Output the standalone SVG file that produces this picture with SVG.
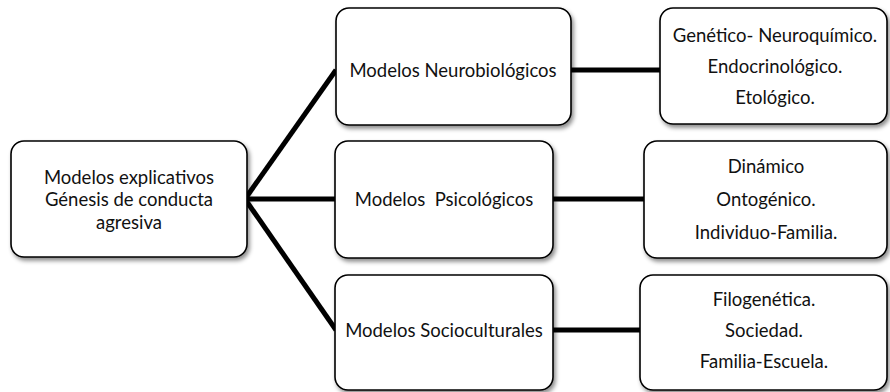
<svg xmlns="http://www.w3.org/2000/svg" width="890" height="392" viewBox="0 0 890 392">
  <defs>
    <filter id="shadow" x="-10%" y="-10%" width="125%" height="130%">
      <feDropShadow dx="2" dy="3" stdDeviation="2" flood-color="#000" flood-opacity="0.45"/>
    </filter>
  </defs>
  <style>
    .box { fill: #fff; stroke: #000; stroke-width: 1.6; filter: url(#shadow); }
    .lbl { font-family: Lato, "Liberation Sans", sans-serif; font-size: 18.5px; fill: #111; text-anchor: middle; dominant-baseline: central; }
    .link { stroke: #000; stroke-width: 5; fill: none; }
  </style>

  <!-- connectors -->
  <g id="connectors">
    <line class="link" x1="245" y1="199" x2="336" y2="70"/>
    <line class="link" x1="245" y1="199" x2="336" y2="199"/>
    <line class="link" x1="245" y1="199" x2="336" y2="330"/>
    <line class="link" x1="571" y1="70" x2="660" y2="70"/>
    <line class="link" x1="553" y1="199" x2="644" y2="199"/>
    <line class="link" x1="553" y1="330" x2="640" y2="330"/>
  </g>

  <!-- root -->
  <g id="root">
    <rect class="box" x="11" y="141" width="236" height="116" rx="13"/>
    <text class="lbl" x="129" y="177">Modelos explicativos</text>
    <text class="lbl" x="129" y="199">Génesis de conducta</text>
    <text class="lbl" x="129" y="222">agresiva</text>
  </g>

  <!-- model families -->
  <g id="neurobiologicos">
    <rect class="box" x="336" y="8" width="235" height="117" rx="13"/>
    <text class="lbl" x="453" y="70">Modelos Neurobiológicos</text>
  </g>
  <g id="psicologicos">
    <rect class="box" x="335" y="141" width="218" height="117" rx="13"/>
    <text class="lbl" x="444" y="199" xml:space="preserve">Modelos  Psicológicos</text>
  </g>
  <g id="socioculturales">
    <rect class="box" x="335" y="275" width="218" height="115" rx="13"/>
    <text class="lbl" x="444" y="330">Modelos Socioculturales</text>
  </g>

  <!-- details -->
  <g id="neuro-detalle">
    <rect class="box" x="660" y="8" width="227" height="116" rx="13"/>
    <text class="lbl" x="775" y="35">Genético- Neuroquímico.</text>
    <text class="lbl" x="775" y="66">Endocrinológico.</text>
    <text class="lbl" x="775" y="97">Etológico.</text>
  </g>
  <g id="psico-detalle">
    <rect class="box" x="644" y="141" width="243" height="117" rx="13"/>
    <text class="lbl" x="766" y="166">Dinámico</text>
    <text class="lbl" x="766" y="199">Ontogénico.</text>
    <text class="lbl" x="766" y="232">Individuo-Familia.</text>
  </g>
  <g id="socio-detalle">
    <rect class="box" x="640" y="275" width="247" height="115" rx="13"/>
    <text class="lbl" x="764" y="299">Filogenética.</text>
    <text class="lbl" x="764" y="330">Sociedad.</text>
    <text class="lbl" x="764" y="361">Familia-Escuela.</text>
  </g>
</svg>
